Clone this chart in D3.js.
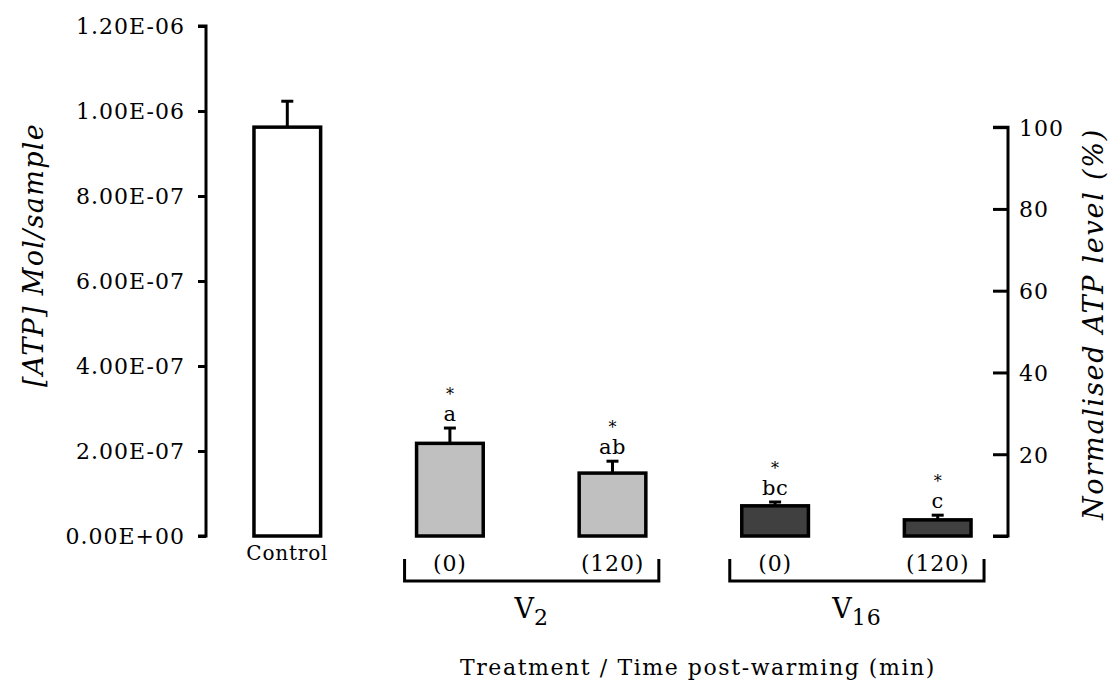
<!DOCTYPE html>
<html><head><meta charset="utf-8">
<script src="https://cdn.jsdelivr.net/npm/d3@7"></script>
<style>
body{margin:0;background:#fff;}
svg{display:block;font-family:"DejaVu Serif",serif;}
</style></head>
<body><svg id="chart" width="1112" height="684"></svg>
<script>
const categories = ["Control", "V2 (0)", "V2 (120)", "V16 (0)", "V16 (120)"];
const timeLabels = ["Control", "(0)", "(120)", "(0)", "(120)"];
const means = [9.62e-7, 2.18e-7, 1.48e-7, 7.1e-8, 3.8e-8];
const errors = [6.1e-8, 3.6e-8, 2.8e-8, 9e-9, 1.1e-8];
const fills = ["#ffffff", "#c0c0c0", "#c0c0c0", "#404040", "#404040"];
const sigLetters = ["", "a", "ab", "bc", "c"];
const sigStars = ["", "*", "*", "*", "*"];
const leftTicks = [0, 2e-7, 4e-7, 6e-7, 8e-7, 1e-6, 1.2e-6];
const rightTicks = [0, 20, 40, 60, 80, 100];
const groups = [{name:"V", sub:"2", from:1, to:2}, {name:"V", sub:"16", from:3, to:4}];

const svg = d3.select("#chart");
const y0 = 536, yTop = 26;
const y = d3.scaleLinear().domain([0, 1.2e-6]).range([y0, yTop]);
const x = d3.scaleBand().domain(categories).range([206, 1019]).paddingInner(0.59).paddingOuter(0.295);
const yR = d3.scaleLinear().domain([0, 100]).range([y0, y(means[0])]);

function fmtE(v){
  let s = v.toExponential(2).toUpperCase();
  let [m, e] = s.split("E");
  let sign = e[0] === "-" ? "-" : "+";
  let d = e.replace(/[+-]/, "");
  if (d.length < 2) d = "0" + d;
  return m + "E" + sign + d;
}
const FF = "DejaVu Serif";
// letter-spacing so a reference text reaches its measured width
function fitSpacing(node, target){
  node.setAttribute("letter-spacing", 0);
  const w = node.getComputedTextLength();
  const n = node.textContent.length;
  return Math.max(0, (target - w) / n);
}

// Left axis
const gL = svg.append("g").attr("transform", "translate(206,0)")
  .call(d3.axisLeft(y).tickValues(leftTicks).tickFormat(fmtE).tickSize(8).tickPadding(13));
gL.select(".domain").attr("stroke-width", 3).attr("d", `M-8,${y(1.2e-6)}H0V${y0}H-8`);
gL.selectAll(".tick line").attr("stroke-width", 3);
const lt = gL.selectAll(".tick text").attr("font-size", 22)
  .attr("font-family", FF).attr("fill", "#000").attr("dy", "0.36em");
const lsL = fitSpacing(lt.nodes()[lt.size()-1], 109);
lt.attr("letter-spacing", lsL);

// Right axis
const gR = svg.append("g").attr("transform", "translate(1008,0)")
  .call(d3.axisLeft(yR).tickValues(rightTicks).tickFormat(d => d === 0 ? "" : d).tickSize(15));
gR.select(".domain").attr("stroke-width", 3).attr("d", `M-15,${yR(100)}H0V${y0}H-15`);
gR.selectAll(".tick line").attr("stroke-width", 3);
gR.selectAll(".tick text").attr("x", 11).attr("text-anchor", "start").attr("dy", "0.36em")
  .attr("font-size", 22).attr("letter-spacing", lsL).attr("font-family", FF).attr("fill", "#000");

// Bars
const bars = svg.append("g");
bars.selectAll("rect").data(categories).join("rect")
  .attr("x", d => x(d)).attr("width", x.bandwidth())
  .attr("y", (d,i) => y(means[i])).attr("height", (d,i) => y0 - y(means[i]))
  .attr("fill", (d,i) => fills[i]).attr("stroke", "#000").attr("stroke-width", 3.5);

// Error bars (upper only)
const eb = svg.append("g").attr("stroke", "#000").attr("stroke-width", 3);
categories.forEach((c,i) => {
  const cx = x(c) + x.bandwidth()/2;
  eb.append("line").attr("x1", cx).attr("x2", cx).attr("y1", y(means[i])).attr("y2", y(means[i]+errors[i]));
  eb.append("line").attr("x1", cx-6).attr("x2", cx+6).attr("y1", y(means[i]+errors[i])).attr("y2", y(means[i]+errors[i]));
});

// Significance annotations
const ann = svg.append("g").attr("text-anchor", "middle").attr("fill", "#000");
categories.forEach((c,i) => {
  if (!sigLetters[i]) return;
  const cx = x(c) + x.bandwidth()/2;
  const ty = y(means[i]+errors[i]);
  ann.append("text").attr("x", cx).attr("y", ty - 7).attr("font-size", 21).attr("letter-spacing", 0.5).text(sigLetters[i]);
  ann.append("text").attr("x", cx).attr("y", ty - 28).attr("font-size", 16).text(sigStars[i]);
});

// Category labels
const lab = svg.append("g").attr("text-anchor", "middle").attr("fill", "#000");
categories.forEach((c,i) => {
  const cx = x(c) + x.bandwidth()/2;
  const t = lab.append("text").attr("x", cx).attr("y", i === 0 ? 560 : 571)
    .attr("font-size", i === 0 ? 20 : 22).text(timeLabels[i]);
  if (i === 0) t.attr("letter-spacing", fitSpacing(t.node(), 82));
  else t.attr("letter-spacing", 0.8);
});

// Group brackets
groups.forEach(g => {
  const xa = x(categories[g.from]) - 12, xb = x(categories[g.to]) + x.bandwidth() + 13;
  svg.append("path").attr("d", `M${xa},559V581H${xb}V559`).attr("fill", "none")
    .attr("stroke", "#000").attr("stroke-width", 3);
  const t = svg.append("text").attr("x", (xa+xb)/2).attr("y", 618).attr("text-anchor", "middle")
    .attr("font-size", 27).attr("fill", "#000");
  t.append("tspan").text(g.name);
  t.append("tspan").attr("dy", 7).attr("font-size", 22).attr("letter-spacing", 1).text(g.sub);
});

// Axis titles
const xt = svg.append("text").attr("x", 698).attr("y", 675).attr("text-anchor", "middle")
  .attr("font-size", 22).attr("fill", "#000").text("Treatment / Time post-warming (min)");
xt.attr("letter-spacing", fitSpacing(xt.node(), 476));
const ytl = svg.append("text").attr("transform", "translate(43,255) rotate(-90)").attr("text-anchor", "middle")
  .attr("font-size", 27).attr("font-style", "italic").attr("fill", "#000").text("[ATP] Mol/sample");
ytl.attr("letter-spacing", fitSpacing(ytl.node(), 264));
const ytr = svg.append("text").attr("transform", "translate(1103,324) rotate(-90)").attr("text-anchor", "middle")
  .attr("font-size", 27).attr("font-style", "italic").attr("fill", "#000").text("Normalised ATP level (%)");
ytr.attr("letter-spacing", fitSpacing(ytr.node(), 392));
</script></body></html>
